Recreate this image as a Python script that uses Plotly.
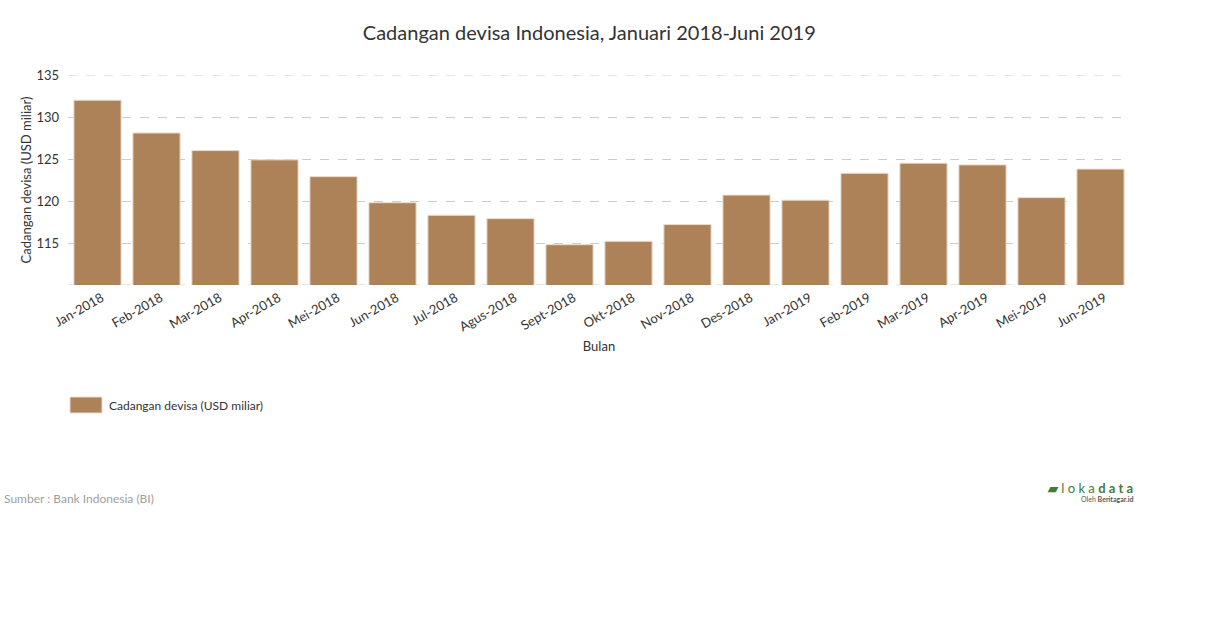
import plotly.graph_objects as go

months = ["Jan-2018", "Feb-2018", "Mar-2018", "Apr-2018", "Mei-2018", "Jun-2018",
          "Jul-2018", "Agus-2018", "Sept-2018", "Okt-2018", "Nov-2018", "Des-2018",
          "Jan-2019", "Feb-2019", "Mar-2019", "Apr-2019", "Mei-2019", "Jun-2019"]
reserves = [132.0, 128.1, 126.0, 124.9, 122.9, 119.8,
            118.3, 117.9, 114.8, 115.2, 117.2, 120.7,
            120.1, 123.3, 124.5, 124.3, 120.4, 123.8]
y_ticks = [115, 120, 125, 130, 135]
series_name = "Cadangan devisa (USD miliar)"

FONT = "Lato, 'Open Sans', sans-serif"
BAR = "#AE8259"
GRID = "#CCCCCC"

fig = go.Figure()
fig.add_trace(go.Bar(
    x=months, y=reserves, name=series_name,
    marker=dict(color=BAR, line=dict(color="#E8DCCD", width=1)),
    showlegend=False,
))

fig.update_layout(
    width=1210, height=628,
    paper_bgcolor="white", plot_bgcolor="white",
    margin=dict(l=68, r=80, t=75, b=343),
    font=dict(family=FONT, color="#333333", size=12),
    title=dict(text="Cadangan devisa Indonesia, Januari 2018-Juni 2019",
               x=0.487, xanchor="center", xref="container",
               y=0.947, yanchor="middle", yref="container",
               font=dict(size=20, color="#333333", family=FONT)),
    bargap=0.2,
    xaxis=dict(tickangle=-30, showgrid=False, showline=False, zeroline=False,
               tickfont=dict(size=13, color="#333333"),
               ticklabelshift=4, ticklabelstandoff=2,
               title=dict(text="Bulan", font=dict(size=13, color="#333333"), standoff=8),
               ticks=""),
    yaxis=dict(range=[110, 135], tickvals=y_ticks, showgrid=True,
               gridcolor=GRID, griddash="dash", gridwidth=1,
               zeroline=False, showline=False,
               tickfont=dict(size=13, color="#333333"),
               ticklabelstandoff=8,
               title=dict(text=series_name, font=dict(size=13, color="#333333"),
                          standoff=1),
               ticks="", ticklen=0),
)

# top and bottom dashed gridlines at range edges
for yv in (110, 135):
    fig.add_shape(type="line", xref="paper", yref="y", x0=0, x1=1, y0=yv, y1=yv,
                  line=dict(color=GRID, width=1, dash="dash"), layer="below")

# legend swatch + label
fig.add_shape(type="rect", xref="paper", yref="paper",
              x0=(70 - 68) / 1062, x1=(102 - 68) / 1062,
              y0=(628 - 343 - 413) / 210, y1=(628 - 343 - 397) / 210,
              fillcolor=BAR, line=dict(color="#E8DCCD", width=1))
fig.add_annotation(text=series_name, xref="paper", yref="paper",
                   x=(107 - 68) / 1062, y=(628 - 343 - 405) / 210,
                   xanchor="left", yanchor="middle", showarrow=False,
                   font=dict(size=12, color="#333333", family=FONT))

fig.add_annotation(text="Sumber : Bank Indonesia (BI)", xref="paper", yref="paper",
                   x=-0.062, y=-1.015, xanchor="left", yanchor="middle", showarrow=False,
                   font=dict(size=12, color="#9E9E9E", family=FONT))
fig.add_annotation(text="<b>▰</b> l o k a <b>d a t a</b>", xref="paper", yref="paper",
                   x=1.005, y=-0.965, xanchor="right", yanchor="middle", showarrow=False,
                   font=dict(size=13, color="#3E7C3A", family=FONT))
fig.add_annotation(text="Oleh <b>Beritagar.id</b>", xref="paper", yref="paper",
                   x=1.005, y=-1.02, xanchor="right", yanchor="middle", showarrow=False,
                   font=dict(size=7, color="#555555", family=FONT))

fig.write_html("out.html")
